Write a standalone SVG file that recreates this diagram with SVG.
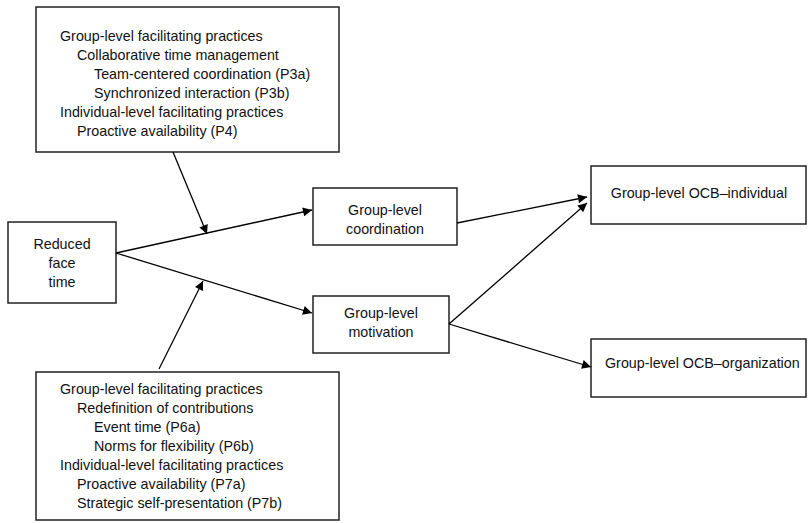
<svg xmlns="http://www.w3.org/2000/svg" width="808" height="523" viewBox="0 0 808 523">
<defs>
<marker id="ah" viewBox="0 0 10 10" refX="10" refY="5" markerWidth="11" markerHeight="9" markerUnits="userSpaceOnUse" orient="auto">
<path d="M0,0 L10,5 L0,10 z" fill="#000"/>
</marker>
<style>
.box{fill:#fff;stroke:#222;stroke-width:1.5}
.t{font-family:"Liberation Sans",Arial,sans-serif;font-size:14.3px;fill:#111}
.c{text-anchor:middle}
.ln{stroke:#000;stroke-width:1.3;fill:none;marker-end:url(#ah)}
</style>
</defs>
<rect width="808" height="523" fill="#fff"/>
<g id="top-moderators">
<rect class="box" x="36" y="7" width="303" height="145"/>
<text class="t" x="60" y="41">Group-level facilitating practices</text>
<text class="t" x="77" y="60">Collaborative time management</text>
<text class="t" x="94" y="79">Team-centered coordination (P3a)</text>
<text class="t" x="94" y="98">Synchronized interaction (P3b)</text>
<text class="t" x="60" y="117">Individual-level facilitating practices</text>
<text class="t" x="77" y="136">Proactive availability (P4)</text>
</g>
<g id="reduced-face-time">
<rect class="box" x="8" y="222" width="108" height="81"/>
<text class="t c" x="62" y="249">Reduced</text>
<text class="t c" x="62" y="268">face</text>
<text class="t c" x="62" y="287">time</text>
</g>
<g id="coordination">
<rect class="box" x="313" y="188" width="144" height="57"/>
<text class="t c" x="385" y="215">Group-level</text>
<text class="t c" x="385" y="234">coordination</text>
</g>
<g id="motivation">
<rect class="box" x="313" y="296" width="136" height="57"/>
<text class="t c" x="381" y="318">Group-level</text>
<text class="t c" x="381" y="337">motivation</text>
</g>
<g id="ocb-individual">
<rect class="box" x="591" y="166" width="215" height="58"/>
<text class="t c" x="699" y="198">Group-level OCB–individual</text>
</g>
<g id="ocb-organization">
<rect class="box" x="591" y="339" width="215" height="58"/>
<text class="t" x="605" y="368">Group-level OCB–organization</text>
</g>
<g id="bottom-moderators">
<rect class="box" x="36" y="372" width="303" height="148"/>
<text class="t" x="60" y="394">Group-level facilitating practices</text>
<text class="t" x="77" y="413">Redefinition of contributions</text>
<text class="t" x="94" y="432">Event time (P6a)</text>
<text class="t" x="94" y="451">Norms for flexibility (P6b)</text>
<text class="t" x="60" y="470">Individual-level facilitating practices</text>
<text class="t" x="77" y="489">Proactive availability (P7a)</text>
<text class="t" x="77" y="508">Strategic self-presentation (P7b)</text>
</g>
<g id="connectors">
<line class="ln" x1="116" y1="253" x2="312" y2="210"/>
<line class="ln" x1="116" y1="253" x2="312" y2="313"/>
<line class="ln" x1="173" y1="152" x2="207" y2="234"/>
<line class="ln" x1="159" y1="369" x2="203" y2="281"/>
<line class="ln" x1="457" y1="223" x2="587" y2="197"/>
<line class="ln" x1="449" y1="324" x2="587" y2="203"/>
<line class="ln" x1="449" y1="324" x2="591" y2="367"/>
</g>
</svg>
